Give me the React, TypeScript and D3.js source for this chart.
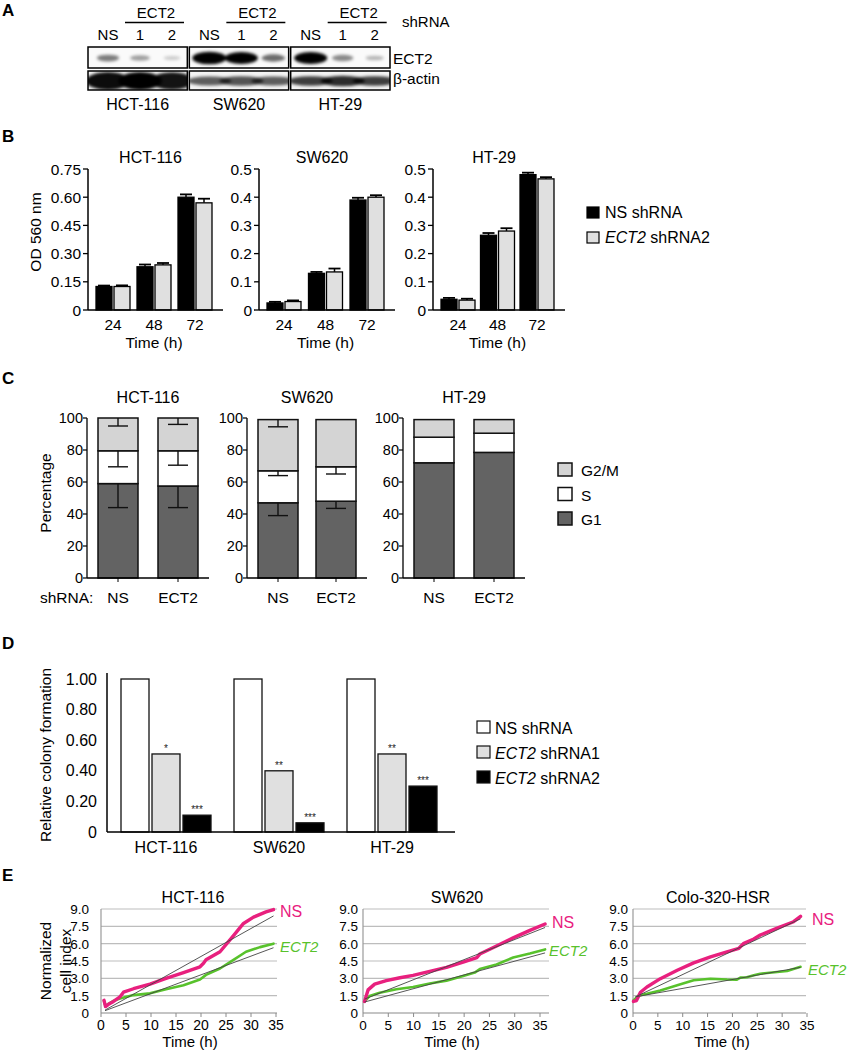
import React from 'react';
import * as d3 from 'd3';

const FONT = "'Liberation Sans', Arial, Helvetica, sans-serif";

// ---------- Panel A (western blot) ----------
const blotLines = ['HCT-116', 'SW620', 'HT-29'];
const blotLanes = ['NS', '1', '2'];
const ect2Intensity = [[0.35, 0.22, 0.04], [1, 0.95, 0.42], [0.95, 0.3, 0.12]];
const actinIntensity = [[0.95, 1, 0.92], [0.62, 0.66, 0.62], [0.75, 0.82, 0.75]];
const actinThickness = [[1, 1, 0.95], [0.35, 0.4, 0.35], [0.4, 0.45, 0.4]];

// ---------- Panel B (proliferation) ----------
const bTimes = ['24', '48', '72'];
const bLines = ['HCT-116', 'SW620', 'HT-29'];
const bNS = [[0.125, 0.23, 0.6], [0.025, 0.13, 0.39], [0.038, 0.265, 0.48]];
const bNSErr = [[0.005, 0.012, 0.015], [0.004, 0.005, 0.008], [0.005, 0.008, 0.007]];
const bECT2 = [[0.125, 0.24, 0.57], [0.03, 0.135, 0.4], [0.035, 0.28, 0.465]];
const bECT2Err = [[0.006, 0.01, 0.022], [0.004, 0.012, 0.007], [0.005, 0.01, 0.006]];
const bMax = [0.75, 0.5, 0.5];
const bTickLabels = [
  ['0', '0.15', '0.30', '0.45', '0.60', '0.75'],
  ['0', '0.1', '0.2', '0.3', '0.4', '0.5'],
  ['0', '0.1', '0.2', '0.3', '0.4', '0.5'],
];
const bLegend = ['NS shRNA', 'ECT2 shRNA2'];

// ---------- Panel C (cell cycle) ----------
const cLines = ['HCT-116', 'SW620', 'HT-29'];
const cGroups = ['NS', 'ECT2'];
const cG1 = [[59, 57.5], [47, 48], [72, 78.5]];
const cS = [[20.5, 22], [20, 21.5], [16, 12]];
const cG2M = [[20.5, 20.5], [32, 29.5], [11, 8.5]];
const cG1Err = [[15, 13.5], [8, 4.5], [0, 0]];
const cSErr = [[10, 9], [3, 4.5], [0, 0]];
const cG2MErr = [[5, 4], [4.5, 0], [0, 0]];
const cTicks = [0, 20, 40, 60, 80, 100];
const cLegend = ['G2/M', 'S', 'G1'];

// ---------- Panel D (colony formation) ----------
const dLines = ['HCT-116', 'SW620', 'HT-29'];
const dNS = [1, 1, 1];
const dSh1 = [0.51, 0.4, 0.51];
const dSh2 = [0.11, 0.06, 0.3];
const dSh1Stars = ['*', '**', '**'];
const dSh2Stars = ['***', '***', '***'];
const dTicks = ['0', '0.20', '0.40', '0.60', '0.80', '1.00'];
const dLegend = ['NS shRNA', 'ECT2 shRNA1', 'ECT2 shRNA2'];

// ---------- Panel E (cell index) ----------
const eLines = ['HCT-116', 'SW620', 'Colo-320-HSR'];
const eTimeTicks = [0, 5, 10, 15, 20, 25, 30, 35];
const eIndexTicks = [0, 1.5, 3, 4.5, 6, 7.5, 9];
const eNS: [number, number][][] = [
  [[0.6, 1.1], [0.9, 0.55], [1.5, 0.75], [2.5, 1.0], [3.8, 1.4], [4.5, 1.8], [6.5, 2.1], [9.8, 2.5], [13, 3.0], [16.5, 3.5], [19.8, 4.0], [20.5, 4.3], [21, 4.6], [23.8, 5.3], [26.5, 6.7], [28.5, 7.75], [30.5, 8.3], [33, 8.75], [34.5, 8.95]],
  [[0.3, 1.0], [1, 2.0], [2.3, 2.5], [4.6, 2.8], [7.3, 3.05], [9.9, 3.25], [13.2, 3.6], [16.5, 3.95], [19.8, 4.4], [22.5, 4.8], [23.1, 5.1], [26.4, 5.8], [29.7, 6.5], [33, 7.15], [36, 7.7]],
  [[0.1, 1.0], [0.7, 1.08], [1.5, 1.8], [2.8, 2.25], [5.5, 2.97], [8.9, 3.7], [12.2, 4.34], [15.6, 4.86], [18.9, 5.3], [21.3, 5.6], [22.3, 6.03], [24.3, 6.4], [25.6, 6.75], [29, 7.34], [32.3, 7.9], [33.7, 8.36]],
];
const eECT2: [number, number][][] = [
  [[0.6, 1.05], [0.9, 0.6], [1.5, 0.8], [2.5, 1.05], [3.8, 1.25], [6.5, 1.55], [9.8, 1.7], [13, 2.05], [16.5, 2.4], [19.8, 2.9], [21, 3.3], [23.8, 3.85], [26.5, 4.6], [29, 5.3], [31.8, 5.7], [34.5, 6.0]],
  [[0.3, 1.0], [1.3, 1.47], [3.3, 1.75], [6.6, 2.05], [9.9, 2.25], [13.2, 2.55], [16.5, 2.8], [19.8, 3.2], [22.1, 3.5], [23.1, 3.8], [26.4, 4.2], [29.7, 4.8], [33, 5.15], [36, 5.5]],
  [[0.1, 1.08], [1.1, 1.5], [2.8, 1.66], [5.5, 1.95], [8.9, 2.4], [12.2, 2.83], [15.6, 2.97], [18.9, 2.9], [20.9, 2.88], [21.6, 3.06], [22.9, 3.1], [24.3, 3.26], [25.6, 3.4], [29, 3.55], [31, 3.64], [33.7, 4.0]],
];
const eNSTrend: [number, number][][] = [
  [[0.8, 0.25], [34.5, 8.4]],
  [[0.3, 1.2], [36, 7.4]],
  [[0.5, 1.4], [33.7, 8.15]],
];
const eECT2Trend: [number, number][][] = [
  [[0.8, 0.2], [34.5, 5.65]],
  [[0.3, 0.95], [36, 5.2]],
  [[0.5, 1.4], [33.7, 3.95]],
];

const NS_COLOR = '#e8207e';
const ECT_COLOR = '#58c22c';

function PanelLetter({ t, y }: { t: string; y: number }) {
  return <text x={2} y={y} fontSize={17} fontWeight="bold">{t}</text>;
}

function PanelA() {
  const box = d3.scaleBand<string>().domain(blotLines).range([88, 390]).paddingInner(0.02);
  const ectY0 = 47, ectY1 = 68, actY0 = 71, actY1 = 90;
  return (
    <g>
      <defs>
        <filter id="blur" x="-50%" y="-100%" width="200%" height="300%">
          <feGaussianBlur stdDeviation="1.8" />
        </filter>
        {blotLines.map((l, i) => (
          <React.Fragment key={l}>
            <clipPath id={`ce${i}`}><rect x={box(l)!} y={ectY0} width={box.bandwidth()} height={ectY1 - ectY0} /></clipPath>
            <clipPath id={`ca${i}`}><rect x={box(l)!} y={actY0} width={box.bandwidth()} height={actY1 - actY0} /></clipPath>
          </React.Fragment>
        ))}
      </defs>
      <PanelLetter t="A" y={16} />
      {blotLines.map((l, gi) => {
        const bx = box(l)!;
        const lane = d3.scalePoint<string>().domain(blotLanes).range([bx + 20, bx + 84]);
        const l1 = lane('1')!, l2 = lane('2')!;
        const ec = (ectY0 + ectY1) / 2, ac = (actY0 + actY1) / 2;
        return (
          <g key={l}>
            <text x={(l1 + l2) / 2} y={18} textAnchor="middle" fontSize={15}>ECT2</text>
            <line x1={l1 - 15} x2={l2 + 12} y1={22.5} y2={22.5} stroke="#000" strokeWidth={1.6} />
            {blotLanes.map((ln) => (
              <text key={ln} x={lane(ln)!} y={40} textAnchor="middle" fontSize={15}>{ln}</text>
            ))}
            <g clipPath={`url(#ce${gi})`}>
              <rect x={bx} y={ectY0} width={box.bandwidth()} height={ectY1 - ectY0} fill="#fafafa" />
              <g filter="url(#blur)">
                {blotLanes.map((ln, li) => {
                  const v = ect2Intensity[gi][li];
                  return <ellipse key={ln} cx={lane(ln)!} cy={ec + 0.5} rx={8 + 9 * v} ry={1.8 + 4.5 * v} fill="#000" opacity={Math.min(1, 0.15 + v)} />;
                })}
              </g>
            </g>
            <g clipPath={`url(#ca${gi})`}>
              <rect x={bx} y={actY0} width={box.bandwidth()} height={actY1 - actY0} fill="#f4f4f4" />
              <g filter="url(#blur)">
                {blotLanes.map((ln, li) => {
                  const v = actinIntensity[gi][li];
                  const th = actinThickness[gi][li];
                  return <ellipse key={ln} cx={lane(ln)!} cy={ac + 0.5} rx={22} ry={2 + 7 * th} fill="#000" opacity={v} />;
                })}
              </g>
            </g>
            <rect x={bx} y={ectY0} width={box.bandwidth()} height={ectY1 - ectY0} fill="none" stroke="#000" strokeWidth={1.5} />
            <rect x={bx} y={actY0} width={box.bandwidth()} height={actY1 - actY0} fill="none" stroke="#000" strokeWidth={1.5} />
            <text x={bx + box.bandwidth() / 2} y={110} textAnchor="middle" fontSize={16}>{l}</text>
          </g>
        );
      })}
      <text x={402} y={27} fontSize={15}>shRNA</text>
      <text x={393} y={64} fontSize={15.5}>ECT2</text>
      <text x={393} y={84} fontSize={15.5}>β-actin</text>
    </g>
  );
}

function PanelB() {
  const yTop = 169, yBot = 310;
  const axes = [[88, 223], [259, 395], [433, 565]];
  const bw = 16;
  return (
    <g>
      <PanelLetter t="B" y={142} />
      {bLines.map((name, gi) => {
        const [ax, ex] = axes[gi];
        const y = d3.scaleLinear().domain([0, bMax[gi]]).range([yBot, yTop]);
        const x = d3.scalePoint<string>().domain(bTimes).range([ax + 25, ex - 28]);
        const ticks = bTickLabels[gi].map((t) => +t);
        return (
          <g key={name}>
            <text x={(ax + ex) / 2 - 5} y={163} textAnchor="middle" fontSize={16}>{name}</text>
            {bTimes.map((t, i) => {
              const c = x(t)!;
              const series = [
                { v: bNS[gi][i], e: bNSErr[gi][i], x0: c - bw - 1, fill: '#000' },
                { v: bECT2[gi][i], e: bECT2Err[gi][i], x0: c + 1, fill: '#e0e0e0' },
              ];
              return (
                <g key={t}>
                  {series.map((s, si) => (
                    <g key={si}>
                      <line x1={s.x0 + bw / 2} x2={s.x0 + bw / 2} y1={y(s.v)} y2={y(s.v + s.e)} stroke="#000" strokeWidth={1.5} />
                      <line x1={s.x0 + 2} x2={s.x0 + bw - 2} y1={y(s.v + s.e)} y2={y(s.v + s.e)} stroke="#000" strokeWidth={1.8} />
                      <rect x={s.x0} y={y(s.v)} width={bw} height={yBot - y(s.v)} fill={s.fill} stroke="#000" strokeWidth={1.3} />
                    </g>
                  ))}
                  <text x={c} y={330} textAnchor="middle" fontSize={15.5}>{t}</text>
                </g>
              );
            })}
            <line x1={ax} x2={ax} y1={yTop} y2={yBot} stroke="#000" strokeWidth={1.5} />
            <line x1={ax} x2={ex} y1={yBot} y2={yBot} stroke="#000" strokeWidth={1.5} />
            {ticks.map((tv, ti) => (
              <g key={ti}>
                <line x1={ax - 5} x2={ax} y1={y(tv)} y2={y(tv)} stroke="#000" strokeWidth={1.3} />
                <text x={ax - 7} y={y(tv) + 5.5} textAnchor="end" fontSize={15.5}>{bTickLabels[gi][ti]}</text>
              </g>
            ))}
            <text x={(x('24')! + x('72')!) / 2} y={348} textAnchor="middle" fontSize={15.5}>Time (h)</text>
          </g>
        );
      })}
      <text transform="translate(41,232) rotate(-90)" textAnchor="middle" fontSize={15.5}>OD 560 nm</text>
      {bLegend.map((l, i) => (
        <g key={l}>
          <rect x={587} y={207 + i * 25} width={12} height={11} fill={i === 0 ? '#000' : '#e0e0e0'} stroke="#000" strokeWidth={1.2} />
          <text x={605} y={218 + i * 25} fontSize={16}>
            {i === 0 ? l : <><tspan fontStyle="italic">ECT2</tspan>{l.slice(4)}</>}
          </text>
        </g>
      ))}
    </g>
  );
}

function PanelC() {
  const y = d3.scaleLinear().domain([0, 100]).range([578, 418]);
  const axes = [[87, 209], [247, 367], [403, 525]];
  const bw = 40;
  const colors = { G1: '#636363', S: '#ffffff', G2M: '#d4d4d4' };
  return (
    <g>
      <PanelLetter t="C" y={384} />
      {cLines.map((name, gi) => {
        const [ax, ex] = axes[gi];
        const x = d3.scalePoint<string>().domain(cGroups).range([ax + 31, ex - 31]);
        return (
          <g key={name}>
            <text x={(ax + ex) / 2} y={403} textAnchor="middle" fontSize={16}>{name}</text>
            {cGroups.map((g, i) => {
              const c = x(g)!;
              const segs = [
                { v0: 0, v: cG1[gi][i], e: cG1Err[gi][i], f: colors.G1 },
                { v0: cG1[gi][i], v: cS[gi][i], e: cSErr[gi][i], f: colors.S },
                { v0: cG1[gi][i] + cS[gi][i], v: cG2M[gi][i], e: cG2MErr[gi][i], f: colors.G2M },
              ];
              return (
                <g key={g}>
                  {segs.map((s, si) => (
                    <rect key={si} x={c - bw / 2} y={y(s.v0 + s.v)} width={bw} height={y(s.v0) - y(s.v0 + s.v)} fill={s.f} stroke="#111" strokeWidth={1.5} />
                  ))}
                  {segs.map((s, si) =>
                    s.e > 0 ? (
                      <g key={'e' + si}>
                        <line x1={c} x2={c} y1={y(s.v0 + s.v)} y2={y(s.v0 + s.v - s.e)} stroke="#111" strokeWidth={1.4} />
                        <line x1={c - 10} x2={c + 10} y1={y(s.v0 + s.v - s.e)} y2={y(s.v0 + s.v - s.e)} stroke="#111" strokeWidth={1.4} />
                      </g>
                    ) : null
                  )}
                  <line x1={c} x2={c} y1={578} y2={582} stroke="#000" strokeWidth={1} />
                  <text x={c} y={603} textAnchor="middle" fontSize={15.5}>{g}</text>
                </g>
              );
            })}
            <line x1={ax} x2={ax} y1={y(100)} y2={y(0)} stroke="#000" strokeWidth={1.3} />
            <line x1={ax} x2={ex} y1={y(0)} y2={y(0)} stroke="#000" strokeWidth={1.3} />
            {cTicks.map((t) => (
              <g key={t}>
                <line x1={ax - 4} x2={ax} y1={y(t)} y2={y(t)} stroke="#000" strokeWidth={1.2} />
                <text x={ax - 4} y={y(t) + 5} textAnchor="end" fontSize={14.5}>{t}</text>
              </g>
            ))}
          </g>
        );
      })}
      <text x={40} y={603} fontSize={15.5}>shRNA:</text>
      <text transform="translate(51,493) rotate(-90)" textAnchor="middle" fontSize={15.5}>Percentage</text>
      {cLegend.map((l, i) => (
        <g key={l}>
          <rect x={558} y={463 + i * 24.5} width={14} height={13} fill={i === 0 ? colors.G2M : i === 1 ? colors.S : colors.G1} stroke="#111" strokeWidth={1.5} />
          <text x={581} y={476 + i * 24.5} fontSize={15.5}>{l}</text>
        </g>
      ))}
    </g>
  );
}

function PanelD() {
  const y = d3.scaleLinear().domain([0, 1]).range([832, 679]);
  const x = d3.scalePoint<string>().domain(dLines).range([166, 392]);
  const bw = 28;
  const fills = ['#ffffff', '#e0e0e0', '#000000'];
  return (
    <g>
      <PanelLetter t="D" y={649} />
      {dLines.map((name, gi) => {
        const c = x(name)!;
        const vals = [dNS[gi], dSh1[gi], dSh2[gi]];
        const stars = ['', dSh1Stars[gi], dSh2Stars[gi]];
        return (
          <g key={name}>
            {vals.map((v, i) => {
              const bx = c + (i - 1) * 31 - bw / 2;
              return (
                <g key={i}>
                  <rect x={bx} y={y(v)} width={bw} height={y(0) - y(v)} fill={fills[i]} stroke="#111" strokeWidth={1.3} />
                  {stars[i] && <text x={bx + bw / 2} y={y(v) - 2} textAnchor="middle" fontSize={10} fill="#222">{stars[i]}</text>}
                </g>
              );
            })}
            <text x={c} y={853} textAnchor="middle" fontSize={16}>{name}</text>
          </g>
        );
      })}
      <line x1={107} x2={107} y1={y(1.04)} y2={y(0)} stroke="#000" strokeWidth={1.5} />
      <line x1={107} x2={455} y1={y(0)} y2={y(0)} stroke="#000" strokeWidth={1.5} />
      {dTicks.map((t) => (
        <text key={t} x={97} y={y(+t) + 5.5} textAnchor="end" fontSize={16}>{t}</text>
      ))}
      <text transform="translate(51,755) rotate(-90)" textAnchor="middle" fontSize={15.5}>Relative colony formation</text>
      {dLegend.map((l, i) => (
        <g key={l}>
          <rect x={477} y={721 + i * 25} width={13} height={12} fill={fills[i]} stroke="#111" strokeWidth={1.2} />
          <text x={495} y={734 + i * 25} fontSize={16}>
            {i === 0 ? l : <><tspan fontStyle="italic">ECT2</tspan>{l.slice(4)}</>}
          </text>
        </g>
      ))}
    </g>
  );
}

function PanelE() {
  const layout = [
    { x0: 101, x1: 276, gridEnd: 277, gap: 12, yFs: 13.5, xFs: 14, titleX: 193, timeX: 190, ns: [280, 917], ect: [280, 952] },
    { x0: 363, x1: 540, gridEnd: 549, gap: 5, yFs: 13.5, xFs: 13.5, titleX: 457, timeX: 452, ns: [552, 928], ect: [549, 956] },
    { x0: 633, x1: 807, gridEnd: 806, gap: 5, yFs: 13.5, xFs: 13.5, titleX: 718, timeX: 722, ns: [812, 925], ect: [808, 975] },
  ];
  const y = d3.scaleLinear().domain([0, 9]).range([1013, 909]);
  return (
    <g>
      <PanelLetter t="E" y={881} />
      {eLines.map((name, gi) => {
        const L = layout[gi];
        const x = d3.scaleLinear().domain([0, 35]).range([L.x0, L.x1]);
        const line = d3.line<[number, number]>().x((d) => x(d[0])).y((d) => y(d[1]));
        return (
          <g key={name}>
            <text x={L.titleX} y={903} textAnchor="middle" fontSize={16}>{name}</text>
            {eIndexTicks.map((t) => (
              <g key={t}>
                {t > 0 && <line x1={L.x0} x2={L.gridEnd} y1={y(t)} y2={y(t)} stroke="#bdbdbd" strokeWidth={1.2} />}
                <text x={L.x0 - L.gap} y={y(t) + 5} textAnchor="end" fontSize={L.yFs}>{t === 0 ? '0' : t.toFixed(1)}</text>
              </g>
            ))}
            <line x1={L.x0} x2={L.x0} y1={y(9)} y2={y(0)} stroke="#9a9a9a" strokeWidth={1.2} />
            <line x1={L.x0} x2={L.gridEnd} y1={y(0)} y2={y(0)} stroke="#8a8a8a" strokeWidth={1.2} />
            {eTimeTicks.map((t) => (
              <g key={t}>
                <line x1={x(t)} x2={x(t)} y1={y(0)} y2={y(0) + 4} stroke="#8a8a8a" strokeWidth={1} />
                <text x={x(t)} y={1030} textAnchor="middle" fontSize={L.xFs}>{t}</text>
              </g>
            ))}
            <path d={line(eECT2[gi])!} fill="none" stroke={ECT_COLOR} strokeWidth={2.6} strokeLinejoin="round" strokeLinecap="round" />
            <path d={line(eNS[gi])!} fill="none" stroke={NS_COLOR} strokeWidth={3.4} strokeLinejoin="round" strokeLinecap="round" />
            <path d={line(eNSTrend[gi])!} fill="none" stroke="#444" strokeWidth={0.9} />
            <path d={line(eECT2Trend[gi])!} fill="none" stroke="#444" strokeWidth={0.9} />
            <text x={L.ns[0]} y={L.ns[1]} fontSize={16} fill={NS_COLOR}>NS</text>
            <text x={L.ect[0]} y={L.ect[1]} fontSize={15} fill={ECT_COLOR} fontStyle="italic">ECT2</text>
            <text x={L.timeX} y={1047} textAnchor="middle" fontSize={15}>Time (h)</text>
          </g>
        );
      })}
      <text transform="translate(51,961) rotate(-90)" textAnchor="middle" fontSize={15.5}>Normalized</text>
      <text transform="translate(71,961) rotate(-90)" textAnchor="middle" fontSize={15.5}>cell index</text>
    </g>
  );
}

export default function App() {
  return (
    <svg width={849} height={1050} style={{ position: 'absolute', left: 0, top: 0 }} fontFamily={FONT}>
      <rect width={849} height={1050} fill="#fff" />
      <PanelA />
      <PanelB />
      <PanelC />
      <PanelD />
      <PanelE />
    </svg>
  );
}
